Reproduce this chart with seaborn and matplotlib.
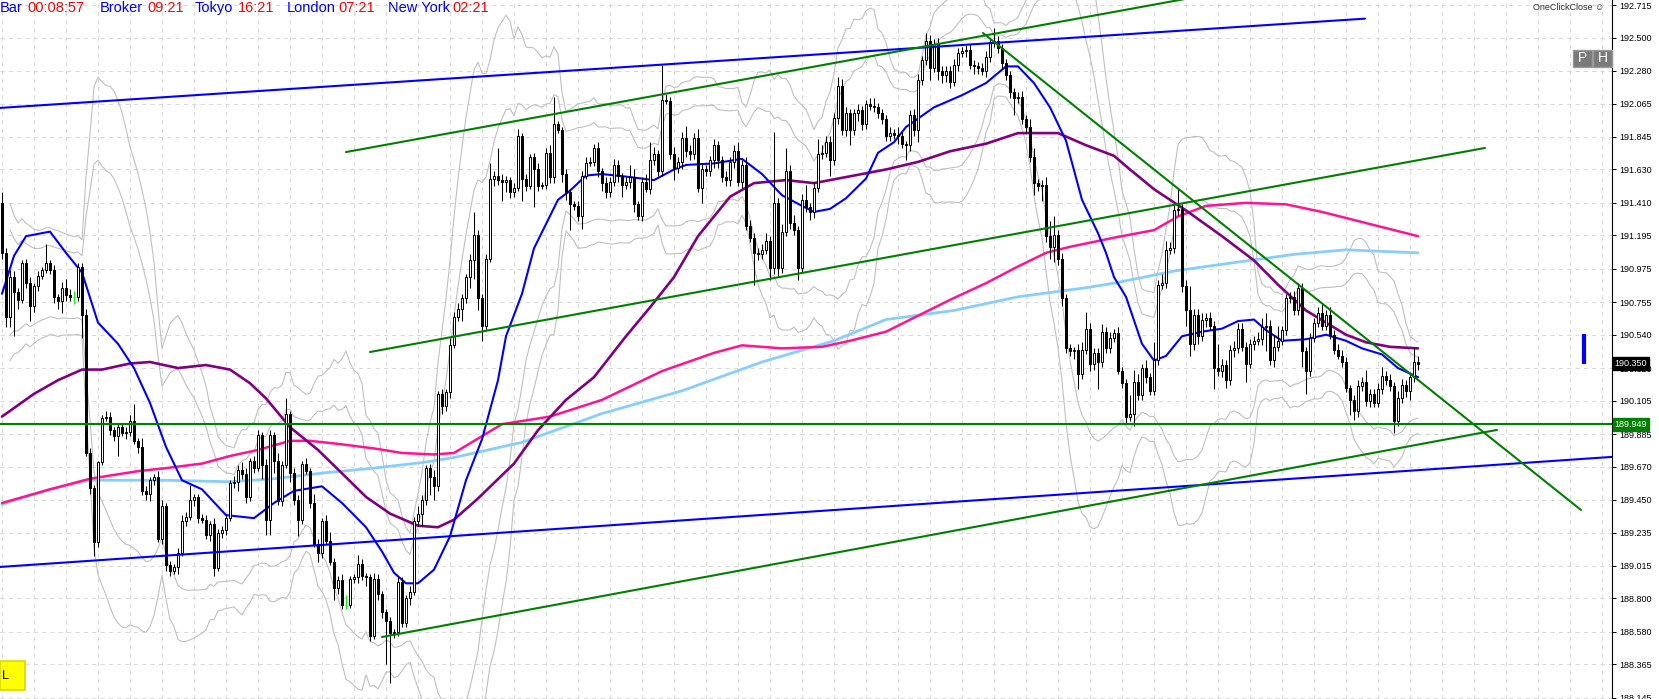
import numpy as np
import pandas as pd
import matplotlib
matplotlib.use("Agg")
import matplotlib.pyplot as plt
from matplotlib.patches import Rectangle
import seaborn as sns

# ---- candle data (bar index = position from left, 1 bar = 4 px) ----
first_open = 191.41
closes = [
    191.08, 190.66, 190.92, 190.82, 190.77, 191.01, 190.88, 190.73, 190.86, 190.93,
    190.97, 191.01, 190.97, 190.79, 190.76, 190.85, 190.80, 190.79, 190.79, 190.99,
    190.67, 189.76, 189.53, 189.17, 189.70, 189.99, 190.00, 189.91, 189.87, 189.93,
    189.89, 189.90, 189.97, 189.84, 189.80, 189.51, 189.49, 189.58, 189.60, 189.19,
    189.41, 189.02, 188.98, 189.01, 189.10, 189.31, 189.34, 189.45, 189.47, 189.33,
    189.32, 189.22, 189.29, 189.00, 189.23, 189.25, 189.33, 189.56, 189.57, 189.65,
    189.62, 189.47, 189.71, 189.66, 189.88, 189.68, 189.32, 189.88, 189.71, 189.44,
    189.68, 190.02, 189.63, 189.45, 189.32, 189.69, 189.64, 189.43, 189.16, 189.10,
    189.31, 189.18, 189.04, 188.87, 188.92, 188.76, 188.76, 188.93, 188.94, 189.03,
    188.95, 188.94, 188.55, 188.93, 188.83, 188.71, 188.65, 188.57, 188.58, 188.91,
    188.64, 188.80, 188.84, 189.31, 189.36, 189.45, 189.66, 189.60, 189.54, 190.15,
    190.07, 190.16, 190.47, 190.66, 190.71, 190.78, 190.92, 191.03, 191.20, 190.78,
    190.60, 191.04, 191.57, 191.59, 191.56, 191.55, 191.56, 191.48, 191.51, 191.85,
    191.57, 191.52, 191.71, 191.63, 191.52, 191.53, 191.74, 191.58, 191.93, 191.89,
    191.60, 191.48, 191.40, 191.39, 191.32, 191.59, 191.67, 191.68, 191.77, 191.62,
    191.54, 191.48, 191.55, 191.66, 191.59, 191.53, 191.55, 191.58, 191.40, 191.32,
    191.55, 191.50, 191.69, 191.73, 191.62, 192.09, 192.08, 191.73, 191.64, 191.68,
    191.84, 191.75, 191.73, 191.84, 191.51, 191.63, 191.62, 191.69, 191.79, 191.69,
    191.58, 191.56, 191.68, 191.75, 191.55, 191.66, 191.26, 191.18, 191.08, 191.07,
    191.10, 191.16, 190.98, 191.41, 190.98, 191.22, 191.62, 191.28, 191.23, 190.98,
    191.43, 191.38, 191.35, 191.51, 191.73, 191.74, 191.81, 191.69, 191.97, 192.18,
    191.89, 192.00, 191.89, 192.00, 192.02, 191.93, 192.06, 192.05, 192.04, 192.00,
    191.96, 191.85, 191.87, 191.86, 191.85, 191.80, 191.79, 191.99, 191.89, 192.22,
    192.35, 192.48, 192.30, 192.46, 192.28, 192.25, 192.28, 192.21, 192.32, 192.40,
    192.41, 192.42, 192.32, 192.31, 192.30, 192.28, 192.37, 192.47, 192.48, 192.43,
    192.33, 192.25, 192.14, 192.10, 192.11, 191.96, 191.91, 191.71, 191.54, 191.52,
    191.53, 191.19, 191.12, 191.20, 191.04, 190.78, 190.45, 190.43, 190.44, 190.28,
    190.44, 190.58, 190.35, 190.42, 190.36, 190.56, 190.45, 190.52, 190.55, 190.30,
    190.22, 190.00, 190.02, 190.23, 190.14, 190.32, 190.26, 190.17, 190.37, 190.87,
    190.88, 191.10, 191.11, 191.36, 191.37, 190.86, 190.70, 190.48, 190.67, 190.53,
    190.64, 190.65, 190.60, 190.32, 190.30, 190.34, 190.24, 190.44, 190.45, 190.58,
    190.46, 190.35, 190.48, 190.50, 190.51, 190.59, 190.60, 190.37, 190.46, 190.50,
    190.57, 190.78, 190.79, 190.70, 190.85, 190.43, 190.30, 190.52, 190.62, 190.68,
    190.60, 190.67, 190.54, 190.44, 190.40, 190.36, 190.19, 190.11, 190.04, 190.20,
    190.23, 190.10, 190.15, 190.09, 190.18, 190.27, 190.24, 190.20, 189.97, 190.12,
    190.21, 190.17, 190.26, 190.36, 190.35,
]
# upper / lower shadows in pips (0.01)
wick_up = [
    7, 3, 5, 4, 3, 2, 3, 4, 2, 3, 2, 13, 2, 3, 2, 4, 6, 4, 4, 2,
    2, 4, 3, 2, 1, 2, 4, 3, 2, 3, 2, 3, 4, 11, 2, 6, 3, 2, 2, 4,
    4, 2, 3, 2, 3, 4, 3, 10, 2, 2, 3, 3, 2, 4, 3, 3, 2, 2, 4, 3,
    5, 4, 2, 3, 3, 2, 4, 3, 2, 5, 3, 10, 2, 3, 3, 2, 4, 2, 6, 3,
    2, 4, 6, 3, 3, 4, 6, 2, 2, 6, 3, 2, 2, 4, 3, 2, 2, 3, 2, 3,
    3, 2, 4, 3, 5, 3, 2, 3, 5, 2, 3, 2, 5, 3, 4, 3, 2, 4, 15, 3,
    3, 3, 10, 3, 18, 4, 3, 2, 3, 5, 2, 3, 2, 3, 4, 2, 3, 5, 18, 2,
    2, 3, 2, 2, 3, 3, 4, 3, 3, 4, 2, 4, 3, 4, 3, 2, 3, 8, 5, 2,
    3, 5, 12, 5, 3, 23, 4, 3, 5, 3, 4, 8, 4, 3, 6, 4, 3, 3, 4, 3,
    3, 4, 3, 4, 6, 3, 5, 4, 3, 3, 4, 5, 3, 47, 3, 5, 15, 4, 5, 3,
    4, 10, 3, 4, 10, 5, 4, 4, 3, 6, 5, 4, 3, 3, 4, 3, 3, 4, 5, 3,
    3, 3, 4, 3, 5, 3, 2, 3, 4, 4, 3, 5, 4, 3, 4, 3, 3, 3, 4, 3,
    3, 3, 4, 3, 3, 3, 4, 3, 8, 3, 3, 3, 3, 3, 3, 4, 3, 5, 6, 3,
    3, 5, 10, 12, 3, 4, 3, 3, 2, 4, 5, 11, 4, 3, 3, 5, 3, 4, 3, 4,
    3, 3, 12, 8, 5, 3, 5, 3, 12, 3, 6, 6, 4, 5, 14, 3, 4, 16, 4, 4,
    4, 3, 4, 3, 16, 4, 3, 3, 5, 4, 4, 3, 3, 3, 5, 6, 8, 4, 8, 10,
    3, 3, 3, 4, 3, 3, 3, 3, 3, 4, 6, 3, 5, 3, 4, 4, 3, 2, 3, 4,
    3, 8, 3, 3, 4, 6, 3, 4, 3, 5, 4, 3, 3, 10, 4,
]
wick_dn = [
    4, 7, 7, 29, 6, 2, 3, 10, 4, 3, 2, 2, 3, 4, 5, 8, 4, 3, 5, 3,
    15, 2, 4, 9, 3, 2, 2, 3, 3, 13, 2, 4, 3, 2, 4, 3, 4, 5, 3, 2,
    3, 4, 3, 2, 5, 2, 3, 2, 4, 3, 2, 3, 4, 5, 2, 3, 3, 2, 3, 6,
    3, 4, 3, 3, 2, 9, 10, 10, 8, 2, 3, 2, 6, 3, 11, 3, 2, 3, 2, 6,
    3, 2, 2, 8, 4, 3, 3, 2, 3, 4, 3, 6, 3, 2, 4, 4, 28, 33, 3, 3,
    3, 3, 4, 2, 3, 8, 3, 12, 9, 3, 5, 3, 4, 2, 3, 8, 3, 7, 12, 8,
    10, 3, 2, 5, 3, 13, 7, 4, 3, 2, 15, 3, 2, 25, 3, 2, 3, 4, 4, 2,
    5, 5, 17, 3, 3, 8, 2, 2, 3, 4, 5, 4, 3, 3, 4, 8, 3, 4, 5, 2,
    3, 2, 3, 3, 3, 3, 2, 3, 8, 3, 5, 4, 4, 3, 3, 10, 3, 3, 5, 5,
    3, 4, 4, 4, 3, 4, 3, 3, 21, 4, 3, 3, 8, 4, 6, 3, 3, 4, 3, 8,
    3, 3, 5, 4, 3, 3, 3, 10, 3, 4, 3, 4, 10, 3, 5, 4, 3, 3, 3, 3,
    3, 3, 3, 3, 5, 3, 10, 4, 4, 8, 3, 3, 8, 3, 6, 5, 4, 4, 3, 4,
    3, 4, 3, 5, 4, 3, 4, 3, 3, 3, 4, 3, 4, 11, 3, 3, 4, 3, 8, 3,
    10, 4, 8, 10, 4, 5, 3, 3, 5, 10, 3, 3, 5, 4, 18, 3, 3, 3, 3, 2,
    3, 4, 3, 8, 3, 3, 4, 3, 3, 3, 3, 3, 3, 3, 3, 4, 10, 8, 4, 5,
    3, 5, 3, 14, 3, 4, 5, 3, 5, 3, 3, 12, 3, 4, 3, 4, 16, 3, 4, 3,
    3, 3, 3, 3, 3, 10, 15, 3, 3, 3, 3, 3, 3, 3, 2, 3, 3, 10, 6, 4,
    3, 3, 4, 3, 3, 3, 3, 3, 8, 3, 3, 4, 6, 3, 4,
]

# ---- moving averages (bar index, price) ----
fast_bar = [0, 3, 6, 12, 16, 20, 24, 29, 33, 37, 41, 45, 50, 56, 63, 68, 73, 80, 85, 91,
            95, 98, 101, 104, 108, 112, 116, 120, 124, 126, 130, 133, 136, 139, 142, 146,
            150, 157, 163, 168, 171, 178, 185, 190, 195, 200, 203, 207, 211, 216, 219, 223,
            226, 233, 240, 246, 251, 254, 258, 262, 266, 270, 274, 276, 278, 281, 285, 288,
            291, 295, 300, 305, 309, 313, 316, 320, 326, 331, 336, 340, 345, 349, 354]
fast_ma = [190.81, 191.06, 191.19, 191.22, 191.08, 190.95, 190.62, 190.48, 190.32, 190.09,
           189.80, 189.58, 189.52, 189.35, 189.33, 189.43, 189.51, 189.54, 189.43, 189.27,
           189.11, 188.97, 188.90, 188.90, 188.99, 189.21, 189.58, 189.85, 190.24, 190.53,
           190.81, 191.11, 191.27, 191.43, 191.49, 191.59, 191.60, 191.58, 191.56, 191.63,
           191.66, 191.67, 191.70, 191.60, 191.46, 191.39, 191.35, 191.37, 191.44, 191.57,
           191.74, 191.81, 191.91, 192.04, 192.12, 192.20, 192.31, 192.31, 192.20, 192.04,
           191.82, 191.43, 191.21, 191.08, 190.92, 190.79, 190.48, 190.37, 190.40, 190.53,
           190.56, 190.58, 190.63, 190.64, 190.57, 190.50, 190.51, 190.54, 190.50, 190.45,
           190.41, 190.32, 190.26]

mid_bar = [0, 8, 14, 20, 25, 32, 37, 44, 51, 57, 62, 66, 72, 79, 86, 91, 97, 104, 109, 113,
           119, 128, 134, 141, 148, 156, 162, 168, 174, 182, 188, 196, 203, 211, 221, 229,
           237, 246, 254, 264, 271, 278, 282, 288, 296, 305, 313, 319, 326, 331, 336, 341,
           347, 354]
mid_ma = [190.00, 190.15, 190.24, 190.31, 190.31, 190.35, 190.36, 190.32, 190.34, 190.31,
          190.22, 190.12, 189.93, 189.78, 189.60, 189.47, 189.36, 189.28, 189.27, 189.32,
          189.46, 189.69, 189.91, 190.11, 190.26, 190.53, 190.72, 190.92, 191.19, 191.45,
          191.54, 191.56, 191.54, 191.58, 191.63, 191.68, 191.75, 191.80, 191.87, 191.87,
          191.79, 191.72, 191.63, 191.50, 191.36, 191.19, 191.03, 190.87, 190.70, 190.62,
          190.54, 190.49, 190.46, 190.45]

pink_bar = [0, 12, 22, 34, 41, 50, 57, 64, 72, 77, 84, 93, 100, 108, 113, 125, 137, 150,
            165, 178, 185, 195, 205, 212, 221, 237, 246, 254, 261, 267, 278, 288, 294, 301,
            311, 321, 330, 336, 345, 354]
pink_ma = [189.43, 189.52, 189.59, 189.64, 189.66, 189.69, 189.74, 189.78, 189.84, 189.84,
           189.82, 189.79, 189.76, 189.75, 189.76, 189.95, 190.00, 190.11, 190.30, 190.42,
           190.47, 190.45, 190.46, 190.50, 190.56, 190.77, 190.88, 190.99, 191.08, 191.12,
           191.18, 191.23, 191.32, 191.39, 191.41, 191.40, 191.35, 191.31, 191.25, 191.19]

sky_bar = [0, 12, 22, 41, 57, 68, 81, 93, 106, 113, 130, 150, 170, 190, 208, 221, 238, 254,
           271, 278, 293, 301, 312, 323, 336, 345, 354]
sky_ma = [189.42, 189.52, 189.58, 189.58, 189.57, 189.59, 189.63, 189.66, 189.70, 189.73,
          189.83, 190.02, 190.17, 190.36, 190.50, 190.64, 190.70, 190.79, 190.85, 190.88,
          190.96, 190.99, 191.03, 191.07, 191.10, 191.09, 191.08]

# ---- drawn objects: trend lines (bar, price) ----
blue_lines = [((-0.5, 340.75), (192.036, 192.625)), ((-0.5, 402.5), (189.008, 189.734))]
green_lines = [((86, 296), (191.745, 192.756)), ((92, 370.75), (190.426, 191.772)),
               ((95, 373.75), (188.546, 189.912)), ((245.25, 394.75), (192.530, 189.384))]
support_level = 189.949
last_price = 190.350

ytick_vals = [192.715, 192.500, 192.280, 192.065, 191.845, 191.630, 191.410, 191.195,
              190.975, 190.755, 190.540, 190.320, 190.105, 189.885, 189.670, 189.450,
              189.235, 189.015, 188.800, 188.580, 188.365, 188.145]

sns.set_style("white")
plt.rcParams["font.family"] = ["Liberation Sans", "DejaVu Sans"]

W, H = 1659, 699
fig = plt.figure(figsize=(W / 100, H / 100), dpi=100)
ax = fig.add_axes([0, 0, 1612 / W, 1])

n = len(closes)
xs = np.arange(n)
c = np.array(closes)
o = np.concatenate([[first_open], c[:-1]])
hi = np.maximum(o, c) + np.array(wick_up) / 100
lo = np.minimum(o, c) - np.array(wick_dn) / 100
doji = np.isclose(o, c)
bull = (c > o) & ~doji
bear = (c < o) & ~doji

# Bollinger bands (20 bars, 2 and 3 deviations) on closes
cs = pd.Series(c)
mid = cs.rolling(20, min_periods=3).mean()
sd = cs.rolling(20, min_periods=3).std(ddof=0)

# grid
ax.set_xlim(-0.5, 402.5)
ax.set_ylim(188.137, 192.748)
ax.set_xticks(np.arange(-0.125, 402, 8))
ax.set_yticks(ytick_vals)
ax.set_yticklabels([f"{v:.3f}" for v in ytick_vals])
ax.grid(True, color="#d9d9d9", linestyle=(0, (4, 4)), linewidth=0.75)
ax.set_axisbelow(True)

for k in (-3, -2, 2, 3):
    sns.lineplot(x=xs, y=mid + k * sd, ax=ax, color="#c0c0c0", linewidth=0.8, estimator=None)

# moving averages
sns.lineplot(x=sky_bar, y=sky_ma, ax=ax, color="#87CEFA", linewidth=2.0, sort=False, estimator=None)
sns.lineplot(x=pink_bar, y=pink_ma, ax=ax, color="#FF1493", linewidth=1.8, sort=False, estimator=None)
sns.lineplot(x=mid_bar, y=mid_ma, ax=ax, color="#800080", linewidth=1.9, sort=False, estimator=None)
sns.lineplot(x=fast_bar, y=fast_ma, ax=ax, color="#0000FF", linewidth=1.5, sort=False, estimator=None)

# candles
ax.vlines(xs[~doji], lo[~doji], hi[~doji], color="black", linewidth=0.75, zorder=4)
ax.vlines(xs[doji], lo[doji], hi[doji], color="#00FF00", linewidth=0.75, zorder=4)
ax.hlines(c[doji], xs[doji] - 0.3, xs[doji] + 0.3, color="#00FF00", linewidth=0.75, zorder=4)
min_h = 0.004
ax.bar(xs[bull], np.maximum(c - o, min_h)[bull], bottom=o[bull], width=0.5,
       color="white", edgecolor="black", linewidth=0.7, zorder=5)
ax.bar(xs[bear], np.maximum(o - c, min_h)[bear], bottom=c[bear], width=0.5,
       color="black", edgecolor="black", linewidth=0.7, zorder=5)

# trend lines
for bx, py in blue_lines:
    ax.plot(bx, py, color="#0000FF", linewidth=1.5, zorder=6)
for bx, py in green_lines:
    ax.plot(bx, py, color="#008000", linewidth=1.5, zorder=6)
ax.axhline(support_level, color="#008000", linewidth=1.5, zorder=6)
ax.vlines([395.5], [190.347], [190.545], color="#0000FF", linewidth=3, zorder=6)

# axis styling
for s in ["left", "top", "bottom"]:
    ax.spines[s].set_visible(False)
ax.spines["right"].set_color("black")
ax.spines["right"].set_linewidth(0.8)
ax.yaxis.tick_right()
ax.tick_params(axis="y", direction="out", length=3, width=0.7, pad=2, labelsize=6.5, colors="black")
ax.tick_params(axis="x", length=0, labelbottom=False)

ytr = ax.get_yaxis_transform()
ax.text(1.0015, last_price, f"{last_price:.3f}", transform=ytr, color="white", fontsize=6.5,
        va="center", ha="left", zorder=10, clip_on=False,
        bbox=dict(boxstyle="square,pad=0.2", fc="black", ec="black"))
ax.text(1.0015, support_level, f"{support_level:.3f}", transform=ytr, color="white", fontsize=6.5,
        va="center", ha="left", zorder=10, clip_on=False,
        bbox=dict(boxstyle="square,pad=0.2", fc="#008000", ec="#008000"))

# header clocks
header = [("Bar", 0, "#0000FF"), ("00:08:57", 27, "#FF0000"), ("Broker", 100, "#0000FF"),
          ("09:21", 147, "#FF0000"), ("Tokyo", 195, "#0000FF"), ("16:21", 238, "#FF0000"),
          ("London", 287, "#0000FF"), ("07:21", 338, "#FF0000"), ("New York", 388, "#0000FF"),
          ("02:21", 452, "#FF0000")]
for txt, px, col in header:
    fig.text(px / W, 1 - 8 / H, txt, color=col, fontsize=10.5, va="center", ha="left")

fig.text(1533 / W, 1 - 7 / H, "OneClickClose \u263a", color="#333333", fontsize=6.5,
         va="center", ha="left", family=["Liberation Sans", "DejaVu Sans"])

# P / H buttons
for lab, px in [("P", 1573), ("H", 1593)]:
    fig.patches.append(Rectangle((px / W, 1 - 67 / H), 19 / W, 17 / H, transform=fig.transFigure,
                                 fc="#7a7a7a", ec="#9a9a9a", lw=1, zorder=20))
    fig.text((px + 9.5) / W, 1 - 58.5 / H, lab, color="white", fontsize=10, ha="center",
             va="center", zorder=21)

# yellow "L" box
fig.patches.append(Rectangle((0, 1 - 690 / H), 25 / W, 29 / H, transform=fig.transFigure,
                             fc="#FFFF00", ec="#d8d800", lw=1.2, zorder=20))
fig.text(2 / W, 1 - 676 / H, "L", color="black", fontsize=9, ha="left", va="center", zorder=21)

fig.savefig("out.png", dpi=100, facecolor="white")
